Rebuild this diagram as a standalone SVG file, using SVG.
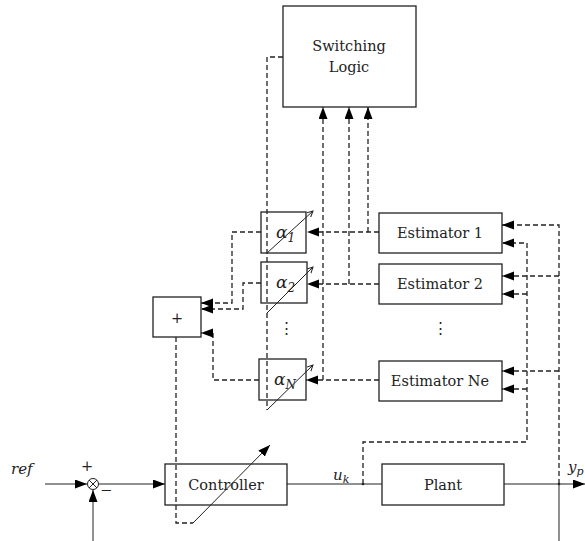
<svg xmlns="http://www.w3.org/2000/svg" width="585" height="541" viewBox="0 0 585 541">
<style>
  .box{fill:none;stroke:#222;stroke-width:1.3}
  .t{font-family:"DejaVu Serif","Liberation Serif",serif;font-size:14.5px;fill:#222;text-anchor:middle}
  .it{font-family:"DejaVu Serif","Liberation Serif",serif;font-style:italic;fill:#222}
  .d{fill:none;stroke:#222;stroke-width:1.3;stroke-dasharray:5,3}
  .s{fill:none;stroke:#222;stroke-width:1}
  .a{marker-end:url(#ah)}
  .o{marker-end:url(#oh)}
</style>
<defs>
  <marker id="ah" markerUnits="userSpaceOnUse" markerWidth="13" markerHeight="10" refX="12" refY="4.5" orient="auto">
    <path d="M0,0 L12,4.5 L0,9 z" fill="#000"/>
  </marker>
  <marker id="oh" markerUnits="userSpaceOnUse" markerWidth="8" markerHeight="8" refX="6" refY="3" orient="auto">
    <path d="M0,0 L6,3 L0,6" fill="none" stroke="#222" stroke-width="1"/>
  </marker>
</defs>

<g id="connectors">
  <!-- switching logic to alpha gains -->
  <path class="d" d="M283,57 H267 V410"/>
  <!-- estimator outputs -->
  <path class="d a" d="M379,232 H307"/>
  <path class="d a" d="M368,232 V107"/>
  <path class="d a" d="M379,284 H307"/>
  <path class="d a" d="M349,284 V107"/>
  <path class="d a" d="M379,380 H306"/>
  <path class="d a" d="M323,380 V107"/>
  <!-- alpha outputs to sum -->
  <path class="d a" d="M261,232 H232 V303 H201"/>
  <path class="d a" d="M261,283 H243 V309 H201"/>
  <path class="d a" d="M259,380 H213 V333 H201"/>
  <!-- sum to controller -->
  <path class="d" d="M176,337 V523 H193"/>
  <path class="s a" d="M193,523 L270,445"/>
  <!-- estimator inputs -->
  <path class="d a" d="M559,484 V225 H502"/>
  <path class="d a" d="M559,276 H502"/>
  <path class="d a" d="M559,371 H502"/>
  <path class="d a" d="M363,484 V442 H527 V243 H502"/>
  <path class="d a" d="M527,294 H502"/>
  <path class="d a" d="M527,389 H502"/>
  <!-- main loop -->
  <path class="s a" d="M45,484 H87"/>
  <path class="s a" d="M99,484 H165"/>
  <path class="s a" d="M93,541 V490"/>
  <path class="s" d="M287,484 H382"/>
  <path class="s a" d="M504,484 H585"/>
  <path class="s" d="M559,484 V541"/>
  <circle cx="559" cy="484" r="1.3" fill="#222"/>
  <circle cx="363" cy="484" r="1.3" fill="#222"/>
</g>

<g id="switching-logic">
  <rect class="box" x="283" y="6" width="133" height="101"/>
  <text class="t" x="349" y="51">Switching</text>
  <text class="t" x="349" y="72">Logic</text>
</g>

<g id="alpha1">
  <rect class="box" x="261" y="212" width="45" height="41"/>
  <text class="it" x="276" y="238" font-size="17">α<tspan font-size="12" dy="4">1</tspan></text>
  <path class="s o" d="M267,253 L313,211"/>
</g>
<g id="alpha2">
  <rect class="box" x="261" y="262" width="46" height="41"/>
  <text class="it" x="276" y="288" font-size="17">α<tspan font-size="12" dy="4">2</tspan></text>
  <path class="s o" d="M267,313 L313,267"/>
</g>
<g id="alpha-dots">
  <text class="t" x="286" y="333">⋮</text>
</g>
<g id="alphaN">
  <rect class="box" x="259" y="359" width="47" height="41"/>
  <text class="it" x="274" y="385" font-size="17">α<tspan font-size="12" dy="4">N</tspan></text>
  <path class="s o" d="M267,410 L313,365"/>
</g>

<g id="sum-block">
  <rect class="box" x="153" y="297" width="48" height="40"/>
  <text class="t" x="177" y="323">+</text>
</g>

<g id="estimator1">
  <rect class="box" x="379" y="213" width="123" height="40"/>
  <text class="t" x="440" y="238">Estimator 1</text>
</g>
<g id="estimator2">
  <rect class="box" x="379" y="264" width="123" height="40"/>
  <text class="t" x="440" y="289">Estimator 2</text>
</g>
<g id="estimator-dots">
  <text class="t" x="440" y="333">⋮</text>
</g>
<g id="estimatorNe">
  <rect class="box" x="379" y="361" width="123" height="40"/>
  <text class="t" x="440" y="386">Estimator Ne</text>
</g>

<g id="summing-junction">
  <circle cx="93" cy="484" r="5.5" fill="#fff" stroke="#222" stroke-width="1"/>
  <path class="s" d="M89,480 L97,488 M97,480 L89,488"/>
  <text class="t" x="87" y="471">+</text>
  <text class="t" x="106" y="495">−</text>
  <text class="it" x="11" y="474" font-size="15">ref</text>
</g>

<g id="controller">
  <rect class="box" x="165" y="464" width="122" height="41"/>
  <text class="t" x="226" y="490">Controller</text>
</g>

<g id="plant">
  <rect class="box" x="382" y="464" width="122" height="41"/>
  <text class="t" x="443" y="490">Plant</text>
</g>

<g id="labels">
  <text class="it" x="333" y="480" font-size="15">u<tspan font-size="11" dy="3">k</tspan></text>
  <text class="it" x="568" y="472" font-size="15">y<tspan font-size="11" dy="3">p</tspan></text>
</g>
</svg>
